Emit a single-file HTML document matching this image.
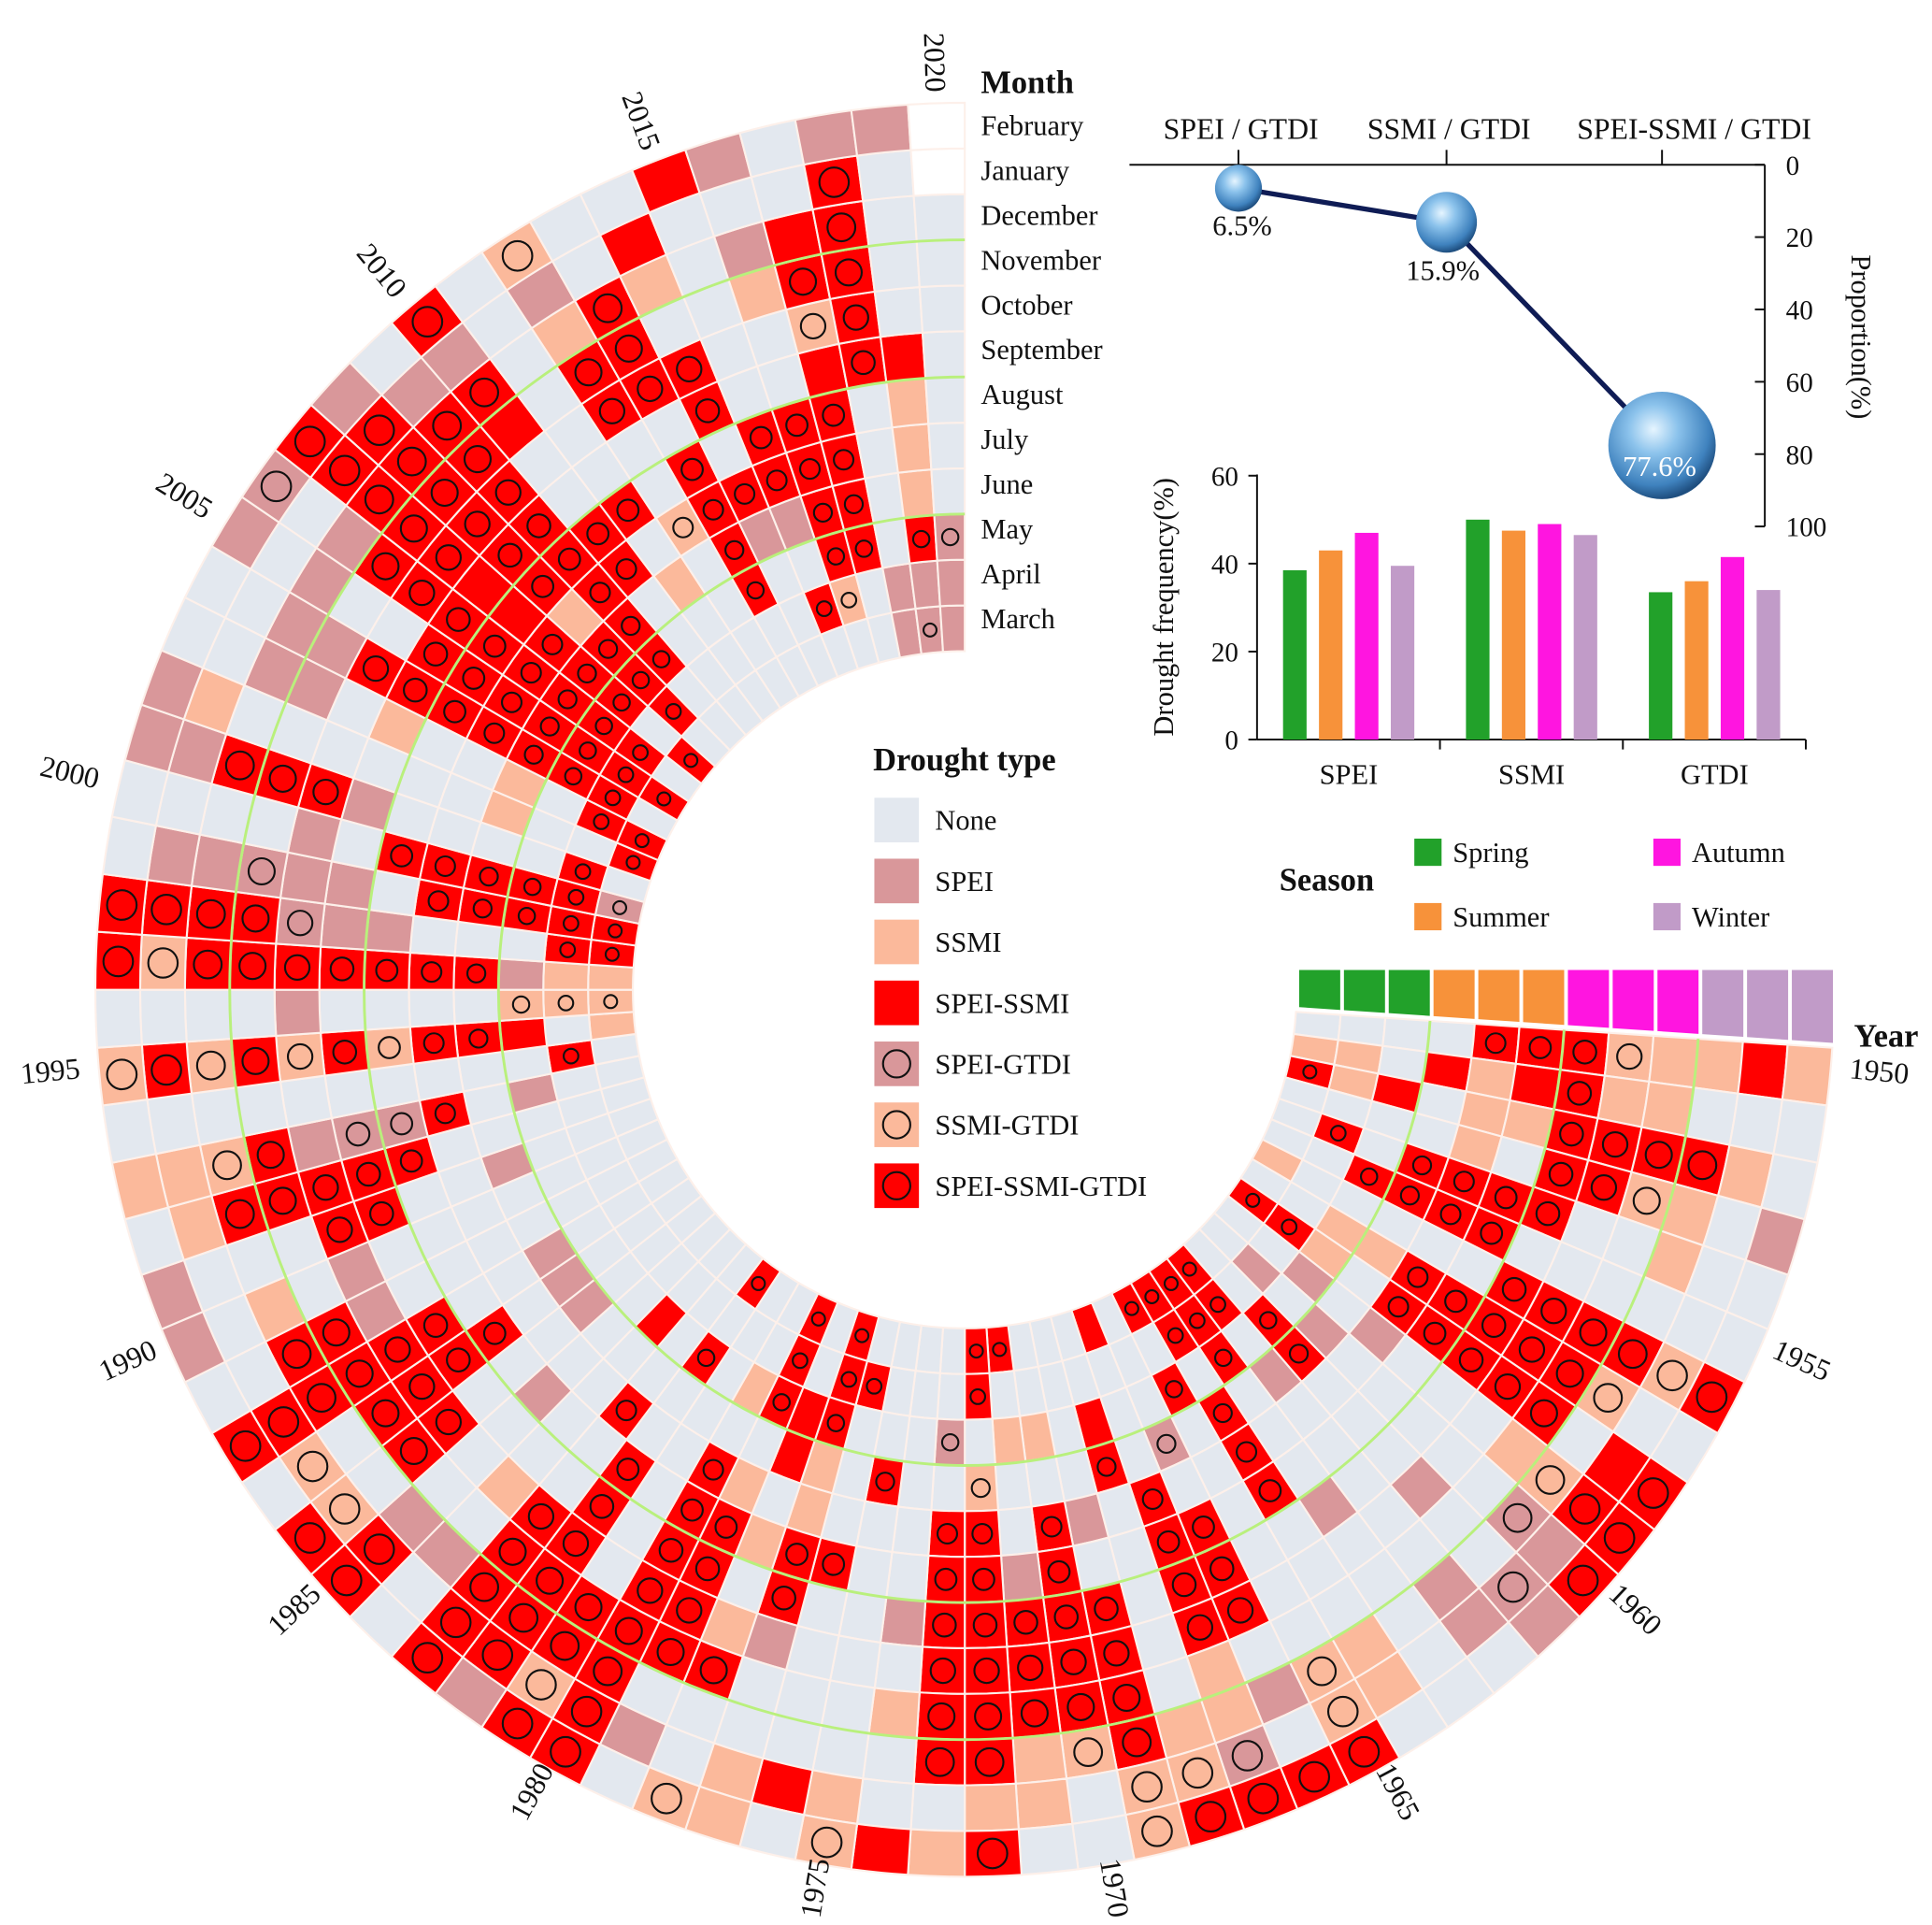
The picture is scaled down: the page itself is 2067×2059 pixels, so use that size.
<!DOCTYPE html>
<html><head><meta charset="utf-8"><title>Drought circular heatmap</title>
<style>
html,body{margin:0;padding:0;background:#fff;}
svg{display:block;}
text{font-family:"Liberation Serif","Times New Roman",serif;fill:#111;}
</style></head>
<body>
<svg id="chart" xmlns="http://www.w3.org/2000/svg" width="2067" height="2059" viewBox="0 0 1560 1554" preserveAspectRatio="none">
<defs>
<radialGradient id="ball" cx="0.42" cy="0.35" r="0.65">
<stop offset="0" stop-color="#e6f5ff"/><stop offset="0.35" stop-color="#8cc3ec"/><stop offset="0.8" stop-color="#3f82be"/><stop offset="1" stop-color="#1f4f80"/>
</radialGradient>
</defs>
<g id="ring"></g>
<g id="labels"></g>

<text x="792" y="75" font-size="26" font-weight="bold">Month</text>
<g id="months"></g>
<text x="1497" y="845" font-size="26" font-weight="bold">Year</text>

<g id="legend">
<text x="705" y="622" font-size="26" font-weight="bold">Drought type</text>
</g>
<g id="season">
<text x="1033" y="719" font-size="26" font-weight="bold">Season</text>
</g>
<g id="seasonbar"></g>
<g id="prop"></g>
<g id="bars"></g>
</svg>
<script>
const NS="http://www.w3.org/2000/svg";
// ---------- data ----------
const years=[];for(let y=1950;y<=2020;y++)years.push(y);
const monthNames=["March","April","May","June","July","August","September","October","November","December","January","February"];
const typeNames=["None","SPEI","SSMI","SPEI-SSMI","SPEI-GTDI","SSMI-GTDI","SPEI-SSMI-GTDI"];
// per-year codes (March..February); 0 none,1 SPEI,2 SSMI,3 SPEI-SSMI,4 SPEI-GTDI,5 SSMI-GTDI,6 SPEI-SSMI-GTDI,7 no data
const cellCodes=[
"000066652232","220323622000","623022666620","000020665201","060666600200",
"006666000000","200000666656","002266666500","662066666036","001010002566",
"010100000416","006600010041","660100000110","666000100000","660666000220",
"606000000556","000406660106","300066662246","003600000256","000010666655",
"002066666500","602001666220","660566666626","004066666602","000000102003",
"000600000025","060006000030","666226610022","003302026005","666026666010",
"002066666666","000000006656","606006666661","000060066666","003000020100",
"000001000166","000100066056","000106666050","000100666666","000000016600",
"000000010201","000100660001","000006666620","001064416522","060000000000",
"203665656565","555000010000","221666666656","660001146666","666660114110",
"466666010000","060000166611","600200000021","660200201100","066666661100",
"666666600101","066666666104","606663366666","066626666661","006666666610",
"000066003616","000206000000","000050066215","006666066600","000160660230",
"060166000003","056666002101","006666356300","110000666661","416222300001",
"114000000077"];
const propCats=["SPEI / GTDI","SSMI / GTDI","SPEI-SSMI / GTDI"];
const propValues=[6.5,15.9,77.6];
const propTicks=[0,20,40,60,80,100];
const freqGroups=["SPEI","SSMI","GTDI"];
const seasons=["Spring","Summer","Autumn","Winter"];
const freqSpring=[38.5,50,33.5];
const freqSummer=[43,47.5,36];
const freqAutumn=[47,49,41.5];
const freqWinter=[39.5,46.5,34];
const freqTicks=[0,20,40,60];

// ---------- geometry ----------
const CX=779,CY=799,SY=1.02,RIN=268,ROUT=702,W=(ROUT-RIN)/12,A0=3.75,DA=3.75;
const fill={0:"#e3e8ef",1:"#d9979a",2:"#fbb99b",3:"#ff0000",4:"#d9979a",5:"#fbb99b",6:"#ff0000",7:"#ffffff"};
const seasonCol=["#22a12a","#f7923a","#ff15e0","#c19bc8"];
function rad(d){return d*Math.PI/180;}
function pt(r,a){return [CX+r*Math.cos(rad(a)),CY+SY*r*Math.sin(rad(a))];}
function sector(r0,r1,a0,a1){
  const p1=pt(r0,a0),p2=pt(r1,a0),p3=pt(r1,a1),p4=pt(r0,a1);
  return `M${p1}L${p2}A${r1},${r1*SY} 0 0 1 ${p3}L${p4}A${r0},${r0*SY} 0 0 0 ${p1}Z`;
}
const ring=document.getElementById('ring');
years.forEach((yr,i)=>{
  const a0=A0+i*DA,a1=a0+DA,codes=cellCodes[i];
  for(let m=0;m<12;m++){
    const c=+codes[m],r0=RIN+m*W,r1=r0+W;
    const p=document.createElementNS(NS,'path');
    p.setAttribute('d',sector(r0,r1,a0,a1));
    p.setAttribute('fill',fill[c]);
    p.setAttribute('stroke','#fdf0ea');p.setAttribute('stroke-width','1.6');
    
    
    ring.appendChild(p);
    if(c>=4&&c<=6){
      const rc=r0+W/2,ac=a0+DA/2,q=pt(rc,ac);
      const rr=Math.min(0.28*rc*rad(DA),0.33*W);
      const ci=document.createElementNS(NS,'circle');
      ci.setAttribute('cx',q[0]);ci.setAttribute('cy',q[1]);ci.setAttribute('r',rr);
      ci.setAttribute('fill','none');ci.setAttribute('stroke','#111');ci.setAttribute('stroke-width','1.6');
      
      
      ring.appendChild(ci);
    }
  }
});
// season separator circles
[3,6,9].forEach(k=>{
  const r=RIN+k*W,aS=A0,aE=A0+years.length*DA;
  const s=pt(r,aS),e=pt(r,aE);
  const p=document.createElementNS(NS,'path');
  p.setAttribute('d',`M${s}A${r},${r*SY} 0 1 1 ${e}`);
  p.setAttribute('fill','none');p.setAttribute('stroke','#b9f07c');p.setAttribute('stroke-width','2.2');
  
  
  ring.appendChild(p);
});
// year labels
const lab=document.getElementById('labels');
years.forEach((yr,i)=>{
  if(yr%5!==0)return;
  const ac=A0+(i+0.5)*DA;
  const q=[779+742*Math.cos(rad(ac)),792+742*Math.sin(rad(ac))];
  let rot=(ac>90&&ac<270)?ac-180:ac;
  const t=document.createElementNS(NS,'text');
  t.setAttribute('x',q[0]);t.setAttribute('y',q[1]);
  t.setAttribute('font-size','24');t.setAttribute('text-anchor','middle');t.setAttribute('dominant-baseline','central');
  t.setAttribute('transform',`rotate(${rot} ${q[0]} ${q[1]})`);
  t.textContent=yr;
  
  
  lab.appendChild(t);
});
// month labels (outer Feb at top)
const mg=document.getElementById('months');
for(let k=0;k<12;k++){
  const t=document.createElementNS(NS,'text');
  t.setAttribute('x',792);t.setAttribute('y',109+k*36.2);t.setAttribute('font-size','23');
  t.textContent=monthNames[11-k];
  
  
  mg.appendChild(t);
}
// drought-type legend
const lg=document.getElementById('legend');
const legFill=[0,1,2,3,4,5,6];
typeNames.forEach((nm,k)=>{
  const yc=662+k*49.2,c=legFill[k];
  const r=document.createElementNS(NS,'rect');
  r.setAttribute('x',706);r.setAttribute('y',yc-18);r.setAttribute('width',36);r.setAttribute('height',36);
  r.setAttribute('fill',fill[c]);
  
  
  lg.appendChild(r);
  if(c>=4){const ci=document.createElementNS(NS,'circle');ci.setAttribute('cx',724);ci.setAttribute('cy',yc);ci.setAttribute('r',11);ci.setAttribute('fill','none');ci.setAttribute('stroke','#111');ci.setAttribute('stroke-width','1.6');
    
    
    lg.appendChild(ci);}
  const t=document.createElementNS(NS,'text');
  t.setAttribute('x',755);t.setAttribute('y',yc+8);t.setAttribute('font-size','23');t.textContent=nm;
  
  
  lg.appendChild(t);
});
// season legend
const sg=document.getElementById('season');
seasons.forEach((nm,k)=>{
  const xx=(nm==="Spring"||nm==="Summer")?1142:1335;
  const yy=(nm==="Spring"||nm==="Autumn")?688:740;
  const r=document.createElementNS(NS,'rect');
  r.setAttribute('x',xx);r.setAttribute('y',yy-11);r.setAttribute('width',22);r.setAttribute('height',22);r.setAttribute('fill',seasonCol[k]);
  
  
  sg.appendChild(r);
  const t=document.createElementNS(NS,'text');
  t.setAttribute('x',xx+31);t.setAttribute('y',yy+8);t.setAttribute('font-size','23');t.textContent=nm;
  
  
  sg.appendChild(t);
});
// season bar above 1950 column
const sb=document.getElementById('seasonbar');
for(let m=0;m<12;m++){
  const x0=RIN+m*W+CX+2,x1=x0+W-3;
  const t=Math.tan(rad(A0))*SY;
  const b0=CY+(x0-CX)*t-4,b1=CY+(x1-CX)*t-4;
  const p=document.createElementNS(NS,'path');
  p.setAttribute('d',`M${x0},783L${x1},783L${x1},${b1}L${x0},${b0}Z`);
  p.setAttribute('fill',seasonCol[Math.floor(m/3)]);
  
  
  sb.appendChild(p);
}
// proportion chart
const pg=document.getElementById('prop');
const pX=[1000,1168,1342];
function pY(v){return 133+v*2.92;}
function add(g,tag,attrs,name,txt){const e=document.createElementNS(NS,tag);for(const k in attrs)e.setAttribute(k,attrs[k]);
  
  
  if(txt!==undefined)e.textContent=txt;g.appendChild(e);return e;}
add(pg,'line',{x1:912,y1:133,x2:1425,y2:133,stroke:'#111','stroke-width':1.5},'prop-x-axis');
add(pg,'line',{x1:1425,y1:133,x2:1425,y2:425,stroke:'#111','stroke-width':1.5},'prop-y-axis');
propCats.forEach((c,k)=>{
  add(pg,'line',{x1:pX[k],y1:121,x2:pX[k],y2:133,stroke:'#111','stroke-width':1.5},'prop-x-tick');
  add(pg,'text',{x:pX[k]+(k===2?26:2),y:112,'font-size':'24','text-anchor':'middle'},'prop-x-label',c);
});
propTicks.forEach(v=>{
  add(pg,'line',{x1:1417,y1:pY(v),x2:1425,y2:pY(v),stroke:'#111','stroke-width':1.5},'prop-y-tick');
  add(pg,'text',{x:1442,y:pY(v)+8,'font-size':'22'},'prop-y-tick-label',v);
});
add(pg,'text',{x:1495,y:272,'font-size':'23','text-anchor':'middle',transform:'rotate(90 1495 272)'},'prop-y-title','Proportion(%)');
const pts=propValues.map((v,k)=>pX[k]+','+pY(v)).join(' ');
add(pg,'polyline',{points:pts,fill:'none',stroke:'#0f1c55','stroke-width':4},'prop-line');
const sizes=propValues.map(v=>9+Math.sqrt(v)*3.9);
propValues.forEach((v,k)=>{
  add(pg,'circle',{cx:pX[k],cy:pY(v),r:sizes[k],fill:'url(#ball)'},'prop-bubble');
});
add(pg,'text',{x:1003,y:190,'font-size':'23','text-anchor':'middle'},'prop-value-label',propValues[0]+'%');
add(pg,'text',{x:1165,y:226,'font-size':'23','text-anchor':'middle'},'prop-value-label',propValues[1]+'%');
add(pg,'text',{x:1340,y:384,'font-size':'23','text-anchor':'middle',style:'fill:#fff'},'prop-value-label',propValues[2]+'%');
// frequency bar chart
const bg=document.getElementById('bars');
function fY(v){return 597-v*3.55;}
add(bg,'line',{x1:1015,y1:383,x2:1015,y2:597,stroke:'#111','stroke-width':1.5},'freq-y-axis');
add(bg,'line',{x1:1015,y1:597,x2:1458,y2:597,stroke:'#111','stroke-width':1.5},'freq-x-axis');
freqTicks.forEach(v=>{
  add(bg,'line',{x1:1008,y1:fY(v),x2:1015,y2:fY(v),stroke:'#111','stroke-width':1.5},'freq-y-tick');
  add(bg,'text',{x:1000,y:fY(v)+8,'font-size':'22','text-anchor':'end'},'freq-y-tick-label',v);
});
add(bg,'text',{x:947,y:490,'font-size':'23','text-anchor':'middle',transform:'rotate(-90 947 490)'},'freq-y-title','Drought frequency(%)');
const series=[freqSpring,freqSummer,freqAutumn,freqWinter];
freqGroups.forEach((g,gi)=>{
  const gx=1015+gi*147.7;
  add(bg,'line',{x1:gx+147.7,y1:597,x2:gx+147.7,y2:605,stroke:'#111','stroke-width':1.5},'freq-x-tick');
  add(bg,'text',{x:gx+74,y:633,'font-size':'23','text-anchor':'middle'},'freq-x-label',g);
  series.forEach((s,si)=>{
    const x=gx+21+si*29;
    add(bg,'rect',{x:x,y:fY(s[gi]),width:19,height:597-fY(s[gi]),fill:seasonCol[si]},'bar-'+g.toLowerCase()+'-'+seasons[si].toLowerCase());
  });
});
</script>
</body></html>
